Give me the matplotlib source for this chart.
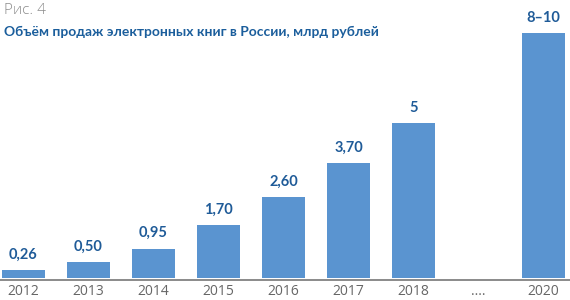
import matplotlib
matplotlib.use("Agg")
import matplotlib.pyplot as plt

years = ["2012", "2013", "2014", "2015", "2016", "2017", "2018", "....", "2020"]
positions = [0, 1, 2, 3, 4, 5, 6, 8]
values = [0.26, 0.50, 0.95, 1.70, 2.60, 3.70, 5.0, 7.9]
value_labels = ["0,26", "0,50", "0,95", "1,70", "2,60", "3,70", "5", "8–10"]

plt.rcParams['font.family'] = ['Lato', 'DejaVu Sans']

fig = plt.figure(figsize=(5.7, 3.0), dpi=100)
W, Hpx = 570, 300
bottom_px = 279.5
top_px = 20
ax = fig.add_axes([0, (Hpx - bottom_px) / Hpx, 1, (bottom_px - top_px) / Hpx])

unit = 31.0
ymin = -0.05
ax.set_ylim(ymin, ymin + (bottom_px - top_px) / unit)
slot = 65.0
x0 = -23.5 / slot
ax.set_xlim(x0, x0 + W / slot)

bar_color = "#5a94d0"
lab_color = "#1f5b98"
ax.bar(positions, values, width=0.66, color=bar_color, bottom=0)
for p, v, t in zip(positions, values, value_labels):
    ax.annotate(t, (p, v), xytext=(0, 6), textcoords="offset points",
                ha="center", va="bottom", fontsize=10.5, fontweight="bold",
                color=lab_color)

ax.set_xticks(list(range(len(years))))
ax.set_xticklabels(years, fontsize=10, color="#666666",
                   family=['Open Sans', 'DejaVu Sans'])
ax.tick_params(axis="x", length=0, pad=3.5)
ax.set_yticks([])
for s in ["top", "left", "right"]:
    ax.spines[s].set_visible(False)
ax.spines["bottom"].set_color("#777777")
ax.spines["bottom"].set_linewidth(1.2)
ax.patch.set_alpha(0)

fig.text(4 / W, 1 - 11 / Hpx, "Рис. 4", fontsize=11, color="#8c8c8c",
         ha="left", va="center", family=['Open Sans', 'DejaVu Sans'], fontweight="light")
fig.text(4 / W, 1 - 32 / Hpx, "Объём продаж электронных книг в России, млрд рублей",
         fontsize=10, color="#1b5e9c", ha="left", va="center", fontweight="bold")

fig.savefig("out.png", dpi=100)
